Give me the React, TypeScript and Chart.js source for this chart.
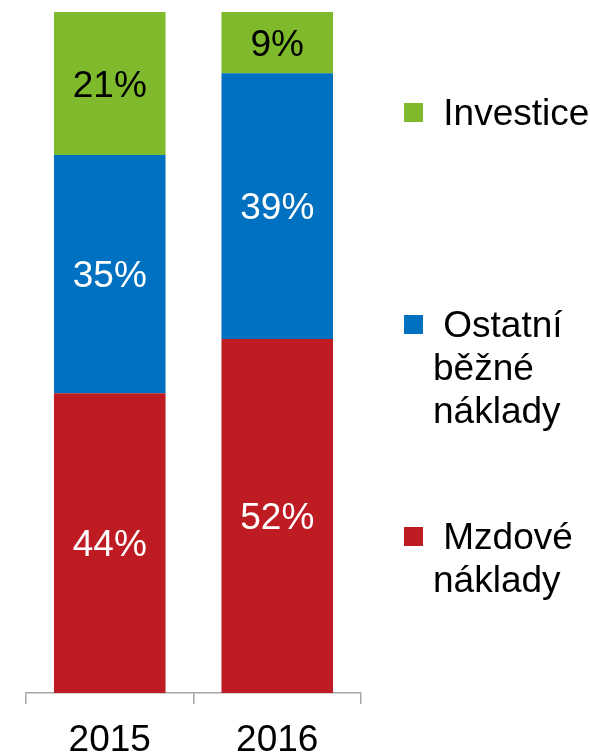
import React, { useEffect, useRef } from "react";
import { Chart, registerables } from "chart.js";

Chart.register(...registerables);

const categories = ["2015", "2016"];
const seriesNames = ["Mzdové náklady", "Ostatní běžné náklady", "Investice"];
const legendLines = [["Mzdové", "náklady"], ["Ostatní", "běžné", "náklady"], ["Investice"]];
const mzdove = [44, 52];
const ostatni = [35, 39];
const investice = [21, 9];
const colors = ["#be1b22", "#0070c0", "#7eba2c"];
const labelColors = ["#ffffff", "#ffffff", "#000000"];

const FONT = "'Liberation Sans', Arial, sans-serif";
const FS = 37;

const dataLabelPlugin = {
  id: "dataLabels",
  afterDatasetsDraw(chart: any) {
    const ctx = chart.ctx;
    ctx.save();
    ctx.font = `${FS}px ${FONT}`;
    ctx.textAlign = "center";
    ctx.textBaseline = "alphabetic";
    chart.data.datasets.forEach((ds: any, di: number) => {
      const meta = chart.getDatasetMeta(di);
      meta.data.forEach((el: any, i: number) => {
        const p = el.getProps(["x", "y", "base"], true);
        const cy = (p.y + p.base) / 2;
        ctx.fillStyle = labelColors[di];
        ctx.fillText(ds.data[i] + "%", p.x, cy + FS * 0.358);
      });
    });
    ctx.restore();
  },
};

const sideLegendPlugin = {
  id: "sideLegend",
  afterDraw(chart: any) {
    const ctx = chart.ctx;
    const area = chart.chartArea;
    ctx.save();
    ctx.font = `${FS}px ${FONT}`;
    ctx.textAlign = "left";
    ctx.textBaseline = "alphabetic";
    const boxX = area.right + 43;
    const textX = area.right + 72;
    const firstBaseline = area.top + 113;
    const step = 212;
    const lineH = 43;
    const order = [2, 1, 0];
    order.forEach((di, k) => {
      const ds = chart.data.datasets[di];
      const base = firstBaseline + k * step;
      ctx.fillStyle = ds.backgroundColor;
      ctx.fillRect(boxX, base - 22, 19, 19);
      ctx.fillStyle = "#000000";
      legendLines[di].forEach((line: string, li: number) => {
        ctx.fillText(li === 0 ? " " + line : line, textX, base + li * lineH);
      });
    });
    ctx.restore();
  },
};

export default function App() {
  const ref = useRef<HTMLCanvasElement | null>(null);
  useEffect(() => {
    if (!ref.current) return;
    const chart = new Chart(ref.current, {
      type: "bar",
      data: {
        labels: categories,
        datasets: [mzdove, ostatni, investice].map((d, i) => ({
          label: seriesNames[i],
          data: d,
          backgroundColor: colors[i],
          borderWidth: 0,
          barPercentage: 0.666,
          categoryPercentage: 1,
        })),
      },
      options: {
        animation: false,
        responsive: true,
        maintainAspectRatio: false,
        layout: { padding: { left: 26, right: 229, top: 12, bottom: 0 } },
        plugins: { legend: { display: false }, tooltip: { enabled: false } },
        scales: {
          x: {
            stacked: true,
            offset: true,
            afterFit: (scale: any) => {
              scale.height = 62;
            },
            grid: {
              display: true,
              offset: true,
              drawOnChartArea: false,
              drawTicks: true,
              tickLength: 11,
              color: "#a6a6a6",
              lineWidth: 1.5,
            },
            border: { display: true, color: "#a6a6a6", width: 1.5 },
            ticks: {
              color: "#000000",
              padding: 15,
              font: { family: FONT, size: FS },
            },
          },
          y: {
            stacked: true,
            display: false,
            min: 0,
            max: 100,
          },
        },
      },
      plugins: [dataLabelPlugin, sideLegendPlugin],
    });
    return () => chart.destroy();
  }, []);
  return (
    <div style={{ position: "fixed", left: 0, top: 0, width: 590, height: 755, background: "#ffffff" }}>
      <canvas ref={ref} />
    </div>
  );
}
